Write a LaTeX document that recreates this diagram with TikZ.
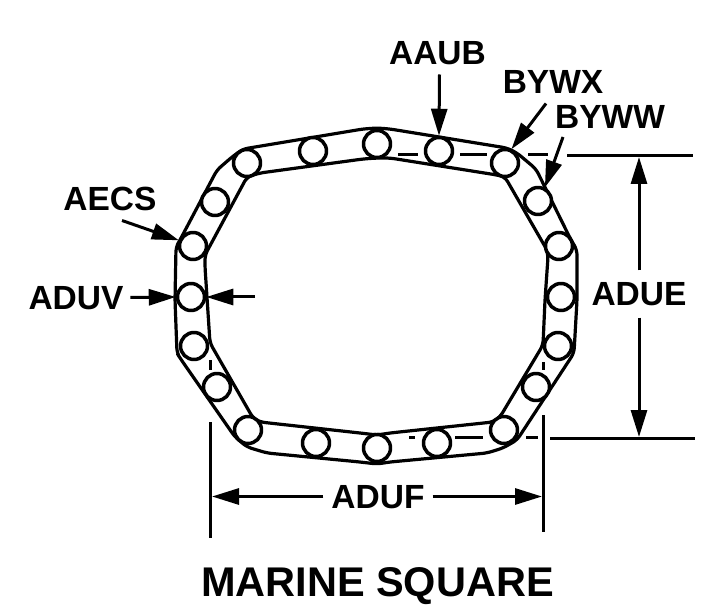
\documentclass[tikz,border=0pt]{standalone}
\usepackage{fontspec}
\setmainfont{Liberation Sans}
\usepackage{tikz}
\usetikzlibrary{arrows.meta}
\tikzstyle{lnk}=[draw, circle, fill=white, inner sep=0pt, minimum size=27pt, line width=3.5pt]
\tikzstyle{lbl}=[inner sep=0pt, outer sep=0pt, text height=23pt, text depth=0pt, font=\bfseries\fontsize{33.5}{33.5}\selectfont]
\tikzstyle{hid}=[line width=3pt]
\tikzstyle{band}=[line width=3.2pt, rounded corners=5pt]
\begin{document}
\begin{tikzpicture}[x=1pt,y=-1pt,line width=3pt,line join=round,>={Triangle[length=27pt,width=16pt]}]
      \useasboundingbox (0,0) rectangle (728,612);
      \draw [band] (176,247) -- (180,240) -- (217,170) -- (232,157) -- (243,149) -- (363,129) -- (377,128) -- (390,129) -- (507,148) -- (517,153) -- (536,169) -- (570,238) -- (577,250) -- (577,300) -- (574,353) -- (517,440) -- (503,448) -- (487,453) -- (390,462) -- (377,464) -- (360,462) -- (267,453) -- (247,447) -- (235,437) -- (180,358) -- (177,353) -- (175,300) -- cycle;
      \draw [band] (260,173) -- (363,159) -- (377,158) -- (390,158) -- (497,175) -- (505,177) -- (547,250) -- (548,257) -- (545,300) -- (543,345) -- (500,417) -- (493,422) -- (390,433) -- (377,435) -- (360,433) -- (260,422) -- (253,418) -- (210,343) -- (205,267) -- (205,255) -- (247,177) -- cycle;
      \node [lnk] (a) at (377,144) {};
      \node [lnk] (b) at (439,151) {};
      \node [lnk] (c) at (505,163) {};
      \node [lnk] (d) at (538,201) {};
      \node [lnk] (e) at (559,246) {};
      \node [lnk] (f) at (561,297) {};
      \node [lnk] (g) at (558,346) {};
      \node [lnk] (h) at (536,387) {};
      \node [lnk] (i) at (504,430) {};
      \node [lnk] (j) at (437,443) {};
      \node [lnk] (k) at (377,448) {};
      \node [lnk] (l) at (316,443) {};
      \node [lnk] (m) at (248,430) {};
      \node [lnk] (n) at (217,387) {};
      \node [lnk] (o) at (194,346) {};
      \node [lnk] (p) at (191,297) {};
      \node [lnk] (q) at (193,246) {};
      \node [lnk] (r) at (215,202) {};
      \node [lnk] (s) at (247,163) {};
      \node [lnk] (t) at (313,151) {};
      \draw [hid] (398,155) -- (418,155);
      \draw [hid] (460,155) -- (487,155);
      \draw [hid] (528,155) -- (548,155);
      \draw [hid] (409,437) -- (415,437);
      \draw [hid] (455,437) -- (483,437);
      \draw [hid] (526,437) -- (538,437);
      \draw [hid] (210,360) -- (210,370);
      \draw [hid] (543,362) -- (543,370);
      \node [lbl] (aaub) at (437.5,53) {AAUB};
      \node [lbl] (bywx) at (553,82) {BYWX};
      \node [lbl] (byww) at (610,117.5) {BYWW};
      \node [lbl] (aecs) at (110,199) {AECS};
      \node [lbl] (aduv) at (76,297.5) {ADUV};
      \node [lbl, inner ysep=12pt] (adue) at (639,294) {ADUE};
      \node [lbl, inner xsep=8pt] (aduf) at (378,496.5) {ADUF};
      \node [lbl, text height=29pt, font=\bfseries\fontsize{41.5}{41.5}\selectfont] (title) at (377.5,581.5) {MARINE SQUARE};
      \node [coordinate] (duvend) at (255,297) {};
      \node [coordinate] (topa) at (567,155.5) {};
      \node [coordinate] (topb) at (693,155.5) {};
      \node [coordinate] (bota) at (550,438) {};
      \node [coordinate] (botb) at (695,438) {};
      \node [coordinate] (lefta) at (210,422) {};
      \node [coordinate] (leftb) at (210,538) {};
      \node [coordinate] (righta) at (543,415) {};
      \node [coordinate] (rightb) at (543,532) {};
      \node [coordinate] (duetop) at (639,157) {};
      \node [coordinate] (duebot) at (639,437) {};
      \node [coordinate] (dufl) at (212,496.5) {};
      \node [coordinate] (dufr) at (542,496.5) {};
      \draw (topa) -- (topb);
      \draw (bota) -- (botb);
      \draw (lefta) -- (leftb);
      \draw (righta) -- (rightb);
      \draw[->] ([shift={(2,10)}]aaub.south) -- (b.north);
      \draw[->] ([shift={(-7,10)}]bywx.south) -- (c.65);
      \draw[->] ([shift={(-47,8)}]byww.south) -- (d.63);
      \draw[->] ([shift={(12,10)}]aecs.south) -- (q.158);
      \draw[->] ([xshift=7pt]aduv.east) -- (p.west);
      \draw[->] (duvend) -- (p.east);
      \path[->] (adue) edge (duetop);
      \path[->] (adue) edge (duebot);
      \path[->] (aduf) edge (dufl);
      \path[->] (aduf) edge (dufr);
\end{tikzpicture}
\end{document}
